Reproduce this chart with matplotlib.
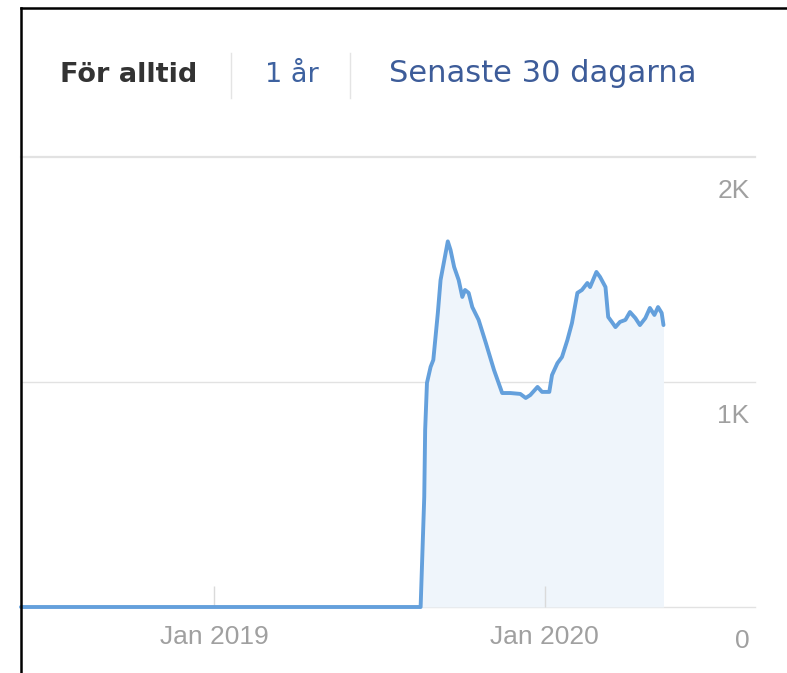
import pandas as pd
import matplotlib
matplotlib.use("Agg")
from matplotlib import pyplot as plt
from matplotlib.lines import Line2D
from matplotlib import transforms

# Data (daily views, approximate)
dates = [
    "2018-06-02", "2019-08-17", "2019-08-21", "2019-08-22", "2019-08-24",
    "2019-08-28", "2019-08-31", "2019-09-05", "2019-09-08", "2019-09-16",
    "2019-09-19", "2019-09-23", "2019-09-28", "2019-10-02", "2019-10-05",
    "2019-10-09", "2019-10-13", "2019-10-20", "2019-10-28", "2019-11-06",
    "2019-11-15", "2019-11-24", "2019-12-05", "2019-12-11", "2019-12-16",
    "2019-12-24", "2019-12-29", "2020-01-06", "2020-01-09", "2020-01-15",
    "2020-01-20", "2020-01-26", "2020-01-31", "2020-02-06", "2020-02-11",
    "2020-02-17", "2020-02-20", "2020-02-27", "2020-03-02", "2020-03-08",
    "2020-03-11", "2020-03-15", "2020-03-19", "2020-03-24", "2020-03-30",
    "2020-04-04", "2020-04-10", "2020-04-15", "2020-04-21", "2020-04-26",
    "2020-05-01", "2020-05-05", "2020-05-09", "2020-05-11",
]
views = [
    0, 0, 489, 787, 996,
    1067, 1098, 1307, 1453, 1625,
    1587, 1511, 1453, 1378, 1409,
    1396, 1333, 1276, 1173, 1053,
    951, 951, 947, 929, 942,
    978, 956, 956, 1031, 1084,
    1111, 1187, 1262, 1396, 1409,
    1440, 1422, 1489, 1467, 1422,
    1289, 1267, 1244, 1267, 1276,
    1311, 1284, 1253, 1284, 1329,
    1298, 1333, 1307, 1253,
]

y_ticks = [0, 1000, 2000]
y_tick_labels = ["0", "1K", "2K"]
x_ticks = ["2019-01-01", "2020-01-01"]
x_tick_labels = ["Jan 2019", "Jan 2020"]
x_range = ["2018-06-02", "2020-08-20"]

tabs = ["För alltid", "1 år", "Senaste 30 dagarna"]

W, H = 787, 673
fig = plt.figure(figsize=(W / 100, H / 100), dpi=100)
ax = fig.add_axes([21 / W, 66 / H, (755 - 21) / W, (607 - 157) / H])

x = pd.to_datetime(dates)
ax.fill_between(x, views, 0, color="#eff5fb", linewidth=0, zorder=1)
ax.plot(x, views, color="#64a0dc", linewidth=2.8, solid_joinstyle="round",
        solid_capstyle="round", zorder=3, clip_on=False)

ax.set_xlim(pd.to_datetime(x_range[0]), pd.to_datetime(x_range[1]))
ax.set_ylim(0, 2000)

# grid lines
for v in y_ticks:
    lw = 1.6 if v == max(y_ticks) else 1.0
    ax.axhline(v, color="#e2e2e2", linewidth=lw, zorder=0.5, clip_on=False)

for s in ax.spines.values():
    s.set_visible(False)

ax.set_xticks(pd.to_datetime(x_ticks))
ax.set_xticklabels(x_tick_labels, fontsize=19, color="#a0a0a0", family="Liberation Sans")
ax.tick_params(axis="x", direction="in", length=15, width=1, color="#dadada", pad=13)
ax.set_yticks([])

# y labels sit below their grid line at the right side
trans = transforms.blended_transform_factory(ax.transAxes, ax.transData)
for v, lab in zip(y_ticks, y_tick_labels):
    ax.annotate(lab, xy=(1, v), xycoords=trans, xytext=(-4, -24.5),
                textcoords="offset points", ha="right", va="center",
                fontsize=19, color="#a0a0a0", family="Liberation Sans",
                annotation_clip=False)

# header tabs
fig.text(60 / W, 1 - 82 / H, tabs[0], fontsize=19.5, fontweight="bold",
         color="#333333", va="baseline", ha="left")
fig.text(265 / W, 1 - 82 / H, tabs[1], fontsize=19.5, color="#3e62a0",
         va="baseline", ha="left")
fig.text(389 / W, 1 - 82 / H, tabs[2], fontsize=22, color="#3d5c99",
         va="baseline", ha="left")
for sx in [231, 350]:
    fig.add_artist(Line2D([sx / W, sx / W], [1 - 53 / H, 1 - 98 / H],
                          color="#e4e4e4", linewidth=1))

# black frame at top and left
fig.add_artist(Line2D([20.5 / W, 20.5 / W], [0, 1 - 7.5 / H], color="black", linewidth=1.8))
fig.add_artist(Line2D([20.5 / W, 1], [1 - 7.5 / H, 1 - 7.5 / H], color="black", linewidth=1.8))

fig.savefig("out.png", dpi=100)
